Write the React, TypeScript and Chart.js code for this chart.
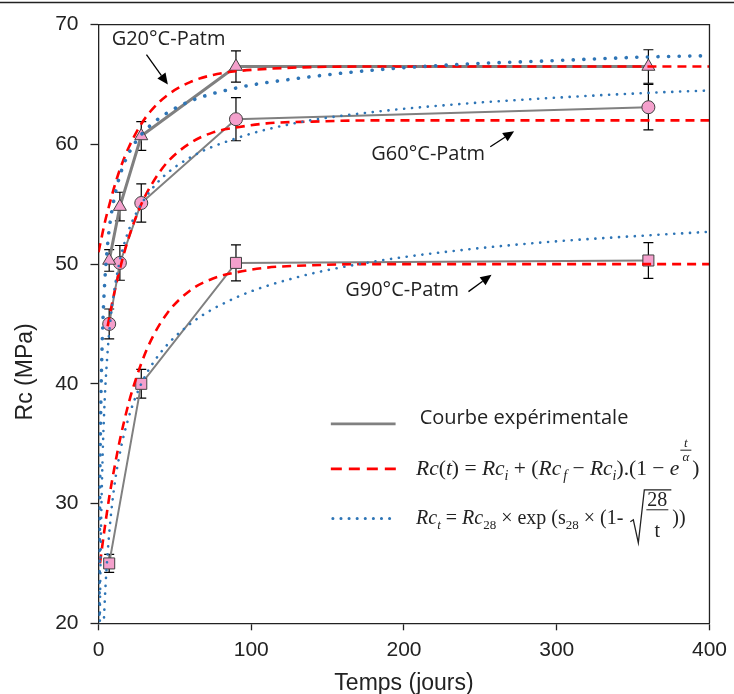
import React, { useEffect, useRef } from 'react';
import { Chart, registerables } from 'chart.js';

Chart.register(...registerables);

// ---------- experimental points (days, MPa) ----------
const ageDays = [7, 14, 28, 90, 360];
const g20Rc = [50.3, 54.8, 60.7, 66.5, 66.5];
const g20Err = [0.9, 1.2, 1.2, 1.3, 1.4];
const g60Rc = [45.0, 50.1, 55.1, 62.1, 63.1];
const g60Err = [1.25, 1.45, 1.6, 1.8, 1.9];
const g90Days = [7, 28, 90, 360];
const g90Rc = [25.0, 40.0, 50.1, 50.3];
const g90Err = [0.75, 1.2, 1.5, 1.5];

// ---------- exponential model curves (red dashed) ----------
const tRedG20 = [0, 2, 4, 7, 10, 14, 20, 28, 35, 45, 60, 75, 90, 110, 140, 180, 250, 400];
const redG20 = [51.0, 52.2, 53.4, 54.9, 56.3, 57.9, 59.8, 61.7, 62.9, 64.1, 65.2, 65.8, 66.1, 66.3, 66.45, 66.5, 66.5, 66.5];
const tRedG60 = [6, 7, 10, 14, 20, 28, 35, 45, 60, 75, 90, 110, 140, 180, 250, 400];
const redG60 = [44.8, 45.5, 47.4, 49.6, 52.3, 55.0, 56.7, 58.5, 60.1, 61.0, 61.4, 61.75, 61.9, 62.0, 62.0, 62.0];
const tRedG90 = [1, 2, 4, 7, 10, 14, 20, 28, 35, 45, 60, 75, 90, 110, 140, 180, 250, 400];
const redG90 = [25.0, 26.0, 27.9, 30.5, 32.7, 35.3, 38.5, 41.7, 43.8, 45.9, 47.8, 48.8, 49.3, 49.7, 49.9, 50.0, 50.0, 50.0];

// ---------- CEB type curves (blue dotted) ----------
const tBlueG20 = [0.3, 0.5, 0.8, 1, 1.5, 2, 3, 4, 5, 7, 10, 14, 20, 28, 40, 60, 90, 130, 180, 240, 300, 360, 400];
const blueG20 = [18.1, 24.5, 30.6, 33.3, 38.2, 41.4, 45.6, 48.3, 50.2, 52.9, 55.3, 57.4, 59.3, 60.8, 62.2, 63.6, 64.7, 65.5, 66.2, 66.7, 67.0, 67.3, 67.4];
const tBlueG60 = [0.8, 1, 1.5, 2, 3, 4, 5, 7, 10, 14, 20, 28, 40, 60, 90, 130, 180, 240, 300, 360, 400];
const blueG60 = [18.9, 21.7, 26.8, 30.3, 35.2, 38.5, 40.9, 44.3, 47.5, 50.3, 52.9, 55.0, 57.0, 58.9, 60.5, 61.8, 62.7, 63.4, 63.9, 64.3, 64.5];
const tBlueG90 = [3, 4, 5, 7, 10, 14, 20, 28, 40, 60, 90, 130, 180, 240, 300, 360, 400];
const blueG90 = [18.5, 21.6, 24.0, 27.5, 31.1, 34.2, 37.3, 40.0, 42.5, 45.0, 47.2, 48.9, 50.2, 51.2, 51.9, 52.4, 52.7];

// ---------- axes ----------
const xMin = 0, xMax = 400, xStep = 100;
const yMin = 20, yMax = 70, yStep = 10;
const xTitle = 'Temps (jours)';
const yTitle = 'Rc (MPa)';
const seriesLabels = ['G20°C-Patm', 'G60°C-Patm', 'G90°C-Patm'];
const legendExp = 'Courbe expérimentale';

const PINK = '#F4A0CC';
const GRAY = '#808080';
const RED = '#FF0000';
const BLUE = '#2E75B6';
const INK = '#222222';
const AXIS_FONT = '"Liberation Sans", Arial, sans-serif';

const pts = (xs: number[], ys: number[]) => xs.map((x, i) => ({ x, y: ys[i] }));

const errorBarPlugin = {
  id: 'errorBars',
  beforeDatasetsDraw(chart: any) {
    const { ctx, scales } = chart;
    const sx = scales.x, sy = scales.y;
    const sets: [number[], number[], number[]][] = [
      [ageDays, g20Rc, g20Err],
      [ageDays, g60Rc, g60Err],
      [g90Days, g90Rc, g90Err],
    ];
    ctx.save();
    ctx.strokeStyle = '#000';
    ctx.lineWidth = 1.2;
    for (const [xs, ys, es] of sets) {
      xs.forEach((x, i) => {
        const px = sx.getPixelForValue(x);
        const top = sy.getPixelForValue(ys[i] + es[i]);
        const bot = sy.getPixelForValue(ys[i] - es[i]);
        ctx.beginPath();
        ctx.moveTo(px, top); ctx.lineTo(px, bot);
        ctx.moveTo(px - 5, top); ctx.lineTo(px + 5, top);
        ctx.moveTo(px - 5, bot); ctx.lineTo(px + 5, bot);
        ctx.stroke();
      });
    }
    ctx.restore();
  },
};

type Run = { t: string; f: string; dy?: number; dx?: number };
function drawRuns(ctx: CanvasRenderingContext2D, x: number, bl: number, runs: Run[]) {
  let cx = x;
  for (const r of runs) {
    ctx.font = r.f;
    cx += r.dx || 0;
    ctx.fillText(r.t, cx, bl + (r.dy || 0));
    cx += ctx.measureText(r.t).width;
  }
  return cx;
}

function arrow(ctx: CanvasRenderingContext2D, x1: number, y1: number, x2: number, y2: number) {
  const ang = Math.atan2(y2 - y1, x2 - x1);
  const hl = 11, hw = 5;
  const bx = x2 - Math.cos(ang) * hl, by = y2 - Math.sin(ang) * hl;
  ctx.beginPath();
  ctx.moveTo(x1, y1); ctx.lineTo(bx, by);
  ctx.stroke();
  ctx.beginPath();
  ctx.moveTo(x2, y2);
  ctx.lineTo(bx + Math.sin(ang) * hw, by - Math.cos(ang) * hw);
  ctx.lineTo(bx - Math.sin(ang) * hw, by + Math.cos(ang) * hw);
  ctx.closePath();
  ctx.fill();
}

const decorPlugin = {
  id: 'decor',
  afterDraw(chart: any) {
    const { ctx, chartArea, scales } = chart;
    const X = (v: number) => scales.x.getPixelForValue(v);
    const Y = (v: number) => scales.y.getPixelForValue(v);
    ctx.save();
    // frame
    ctx.strokeStyle = INK;
    ctx.lineWidth = 1.3;
    ctx.beginPath();
    ctx.moveTo(chartArea.left, chartArea.top);
    ctx.lineTo(chartArea.right, chartArea.top);
    ctx.lineTo(chartArea.right, chartArea.bottom);
    ctx.stroke();
    ctx.beginPath();
    ctx.moveTo(0, 2.5); ctx.lineTo(chart.width, 2.5);
    ctx.stroke();

    // axis titles
    ctx.fillStyle = INK;
    ctx.font = `23px ${AXIS_FONT}`;
    ctx.textAlign = 'center';
    ctx.textBaseline = 'alphabetic';
    ctx.fillText(xTitle, (chartArea.left + chartArea.right) / 2, 690);
    ctx.save();
    ctx.translate(32, Y(41));
    ctx.rotate(-Math.PI / 2);
    ctx.fillText(yTitle, 0, 0);
    ctx.restore();

    // annotations
    const sans = '20px "Open Sans"';
    ctx.fillStyle = INK;
    ctx.textBaseline = 'middle';
    ctx.textAlign = 'left';
    ctx.font = sans;
    ctx.fillText(seriesLabels[0], X(8.6), Y(68.8));
    ctx.fillText(seriesLabels[1], X(178.6), Y(59.2));
    ctx.fillText(seriesLabels[2], X(161.5), Y(47.8));
    ctx.strokeStyle = '#000';
    ctx.fillStyle = '#000';
    ctx.lineWidth = 1.3;
    arrow(ctx, X(31.4), Y(67.5), X(45.4), Y(65.0));
    arrow(ctx, X(256.5), Y(59.8), X(272.1), Y(61.1));
    arrow(ctx, X(242.2), Y(47.7), X(257.3), Y(49.1));

    // legend lines
    const lx1 = X(152.1), lx2 = X(194.5);
    ctx.lineCap = 'butt';
    ctx.strokeStyle = GRAY; ctx.lineWidth = 2.7; ctx.setLineDash([]);
    ctx.beginPath(); ctx.moveTo(lx1, Y(36.65)); ctx.lineTo(lx2, Y(36.65)); ctx.stroke();
    ctx.strokeStyle = RED; ctx.lineWidth = 2.7; ctx.setLineDash([11, 7]);
    ctx.beginPath(); ctx.moveTo(lx1, Y(32.9)); ctx.lineTo(X(195.5), Y(32.9)); ctx.stroke();
    ctx.strokeStyle = BLUE; ctx.lineWidth = 3; ctx.setLineDash([0.1, 8]); ctx.lineCap = 'round';
    ctx.beginPath(); ctx.moveTo(lx1 + 2, Y(28.75)); ctx.lineTo(X(193), Y(28.75)); ctx.stroke();
    ctx.setLineDash([]); ctx.lineCap = 'butt';

    ctx.fillStyle = INK;
    ctx.font = sans;
    ctx.fillText(legendExp, X(210.3), Y(37.12));

    // formulas
    ctx.textBaseline = 'alphabetic';
    const it = (s: number) => `italic ${s}px "Liberation Serif"`;
    const rm = (s: number) => `${s}px "Liberation Serif"`;
    // red formula
    let S = 21.5;
    let sub = 14;
    let bl = Y(32.37);
    let cx = drawRuns(ctx, X(207.9), bl, [
      { t: 'Rc', f: it(S) }, { t: '(', f: rm(S) }, { t: 't', f: it(S) }, { t: ')', f: rm(S) },
      { t: ' = ', f: rm(S) },
      { t: 'Rc', f: it(S) }, { t: 'i', f: it(sub), dy: 5 },
      { t: ' + (', f: rm(S) },
      { t: 'Rc', f: it(S) }, { t: 'f', f: it(sub), dy: 5, dx: 2 },
      { t: ' − ', f: rm(S) },
      { t: 'Rc', f: it(S) }, { t: 'i', f: it(sub), dy: 5 },
      { t: ').(1 − ', f: rm(S) },
      { t: 'e', f: it(S) },
    ]);
    // exponent fraction t/α
    const fw = 11;
    ctx.font = it(13);
    ctx.textAlign = 'center';
    ctx.fillText('t', cx + 1 + fw / 2, bl - 28);
    ctx.fillText('α', cx + 1 + fw / 2, bl - 14);
    ctx.strokeStyle = INK; ctx.lineWidth = 1;
    ctx.beginPath(); ctx.moveTo(cx + 1, bl - 25); ctx.lineTo(cx + 1 + fw, bl - 25); ctx.stroke();
    ctx.textAlign = 'left';
    drawRuns(ctx, cx + fw + 2, bl, [{ t: ')', f: rm(S) }]);

    // blue formula
    S = 20;
    sub = 13;
    bl = Y(28.31);
    cx = drawRuns(ctx, X(207.9), bl, [
      { t: 'Rc', f: it(S) }, { t: 't', f: it(sub), dy: 5 },
      { t: ' = ', f: rm(S) },
      { t: 'Rc', f: it(S) }, { t: '28', f: rm(sub), dy: 5 },
      { t: ' × exp (', f: rm(S) },
      { t: 's', f: rm(S) }, { t: '28', f: rm(sub), dy: 5 },
      { t: ' × (1- ', f: rm(S) },
    ]);
    // radical with fraction 28/t
    ctx.font = rm(S);
    const numW = ctx.measureText('28').width;
    const r0 = cx + 2;
    ctx.strokeStyle = INK; ctx.lineWidth = 1.3;
    ctx.beginPath();
    ctx.moveTo(r0, bl - 2);
    ctx.lineTo(r0 + 3, bl - 4);
    ctx.lineTo(r0 + 8, bl + 19);
    ctx.lineTo(r0 + 14, bl - 34);
    ctx.lineTo(r0 + 18 + numW + 3, bl - 34);
    ctx.stroke();
    const fc = r0 + 17 + numW / 2;
    ctx.lineWidth = 1;
    ctx.beginPath(); ctx.moveTo(r0 + 16, bl - 14); ctx.lineTo(r0 + 18 + numW, bl - 14); ctx.stroke();
    ctx.textAlign = 'center';
    ctx.fillText('28', fc, bl - 18);
    ctx.fillText('t', fc, bl + 13);
    ctx.textAlign = 'left';
    drawRuns(ctx, r0 + 18 + numW + 4, bl, [{ t: '))', f: rm(S) }]);

    ctx.restore();
  },
};

export default function App() {
  const ref = useRef<HTMLCanvasElement>(null);
  useEffect(() => {
    document.body.style.margin = '0';
    const canvas = ref.current!;
    const expCommon = {
      type: 'line' as const,
      borderColor: GRAY,
      pointBackgroundColor: PINK,
      pointBorderColor: '#404040',
      pointBorderWidth: 1,
      fill: false,
      order: 3,
      tension: 0,
    };
    const redCommon = {
      type: 'line' as const,
      borderColor: RED,
      borderWidth: 2.6,
      borderDash: [9, 6],
      pointRadius: 0,
      fill: false,
      cubicInterpolationMode: 'monotone' as const,
      order: 2,
    };
    const blueCommon = {
      type: 'line' as const,
      borderColor: BLUE,
      pointRadius: 0,
      fill: false,
      borderCapStyle: 'round' as const,
      cubicInterpolationMode: 'monotone' as const,
      order: 1,
    };
    const chart = new Chart(canvas, {
      type: 'line',
      data: {
        datasets: [
          { ...expCommon, label: seriesLabels[0], data: pts(ageDays, g20Rc), borderWidth: 3, pointStyle: 'triangle', pointRadius: 7.5 },
          { ...expCommon, label: seriesLabels[1], data: pts(ageDays, g60Rc), borderWidth: 2, pointStyle: 'circle', pointRadius: 6.5 },
          { ...expCommon, label: seriesLabels[2], data: pts(g90Days, g90Rc), borderWidth: 2, pointStyle: 'rect', pointRadius: 7.8 },
          { ...redCommon, label: 'exp G20', data: pts(tRedG20, redG20) },
          { ...redCommon, label: 'exp G60', data: pts(tRedG60, redG60) },
          { ...redCommon, label: 'exp G90', data: pts(tRedG90, redG90) },
          { ...blueCommon, label: 'CEB G20', data: pts(tBlueG20, blueG20), borderWidth: 3.6, borderDash: [0.1, 10.5] },
          { ...blueCommon, label: 'CEB G60', data: pts(tBlueG60, blueG60), borderWidth: 2.6, borderDash: [0.1, 7.8] },
          { ...blueCommon, label: 'CEB G90', data: pts(tBlueG90, blueG90), borderWidth: 2.6, borderDash: [0.1, 7.8] },
        ] as any,
      },
      options: {
        responsive: false,
        animation: false,
        devicePixelRatio: 1,
        layout: { padding: { top: 20, right: 20.7, left: 0, bottom: 0 } },
        plugins: { legend: { display: false }, tooltip: { enabled: false }, title: { display: false } },
        scales: {
          x: {
            type: 'linear',
            min: xMin, max: xMax,
            ticks: { stepSize: xStep, padding: 7, color: INK, font: { family: AXIS_FONT, size: 21 } },
            grid: { drawOnChartArea: false, drawTicks: true, tickLength: 7, color: INK, tickWidth: 1.3 },
            border: { display: true, color: INK, width: 1.3 },
            title: { display: false, text: xTitle },
            afterFit: (s: any) => { s.height = 70.7; },
          },
          y: {
            type: 'linear',
            min: yMin, max: yMax,
            ticks: { stepSize: yStep, padding: 12, color: INK, font: { family: AXIS_FONT, size: 21 } },
            grid: { drawOnChartArea: false, drawTicks: true, tickLength: 8, color: INK, tickWidth: 1.3 },
            border: { display: true, color: INK, width: 1.3 },
            title: { display: false, text: yTitle },
            afterFit: (s: any) => { s.width = 98.5; },
          },
        },
      },
      plugins: [errorBarPlugin, decorPlugin],
    } as any);
    return () => chart.destroy();
  }, []);
  return <canvas ref={ref} width={734} height={694} style={{ display: 'block', width: 734, height: 694 }} />;
}
